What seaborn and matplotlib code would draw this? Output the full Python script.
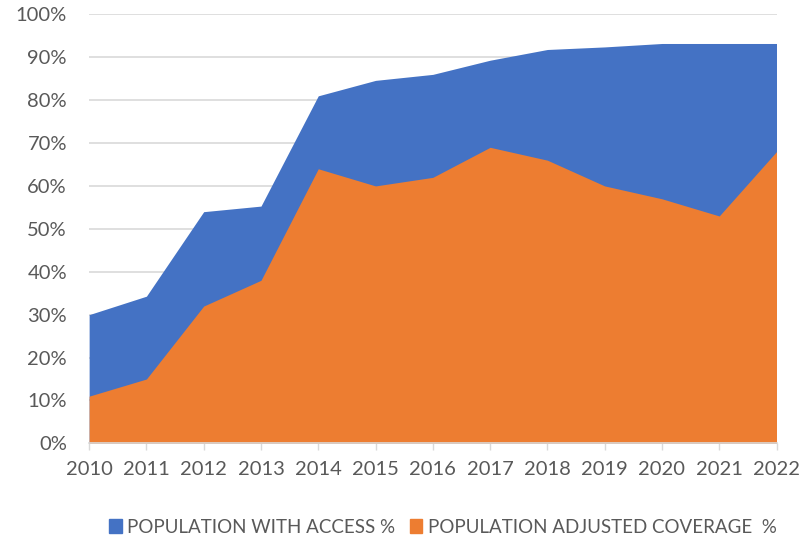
import matplotlib.pyplot as plt
import matplotlib.patches as mpatches
from matplotlib.ticker import PercentFormatter
import pandas as pd
import seaborn as sns

# values (percent)
years = [2010, 2011, 2012, 2013, 2014, 2015, 2016, 2017, 2018, 2019, 2020, 2021, 2022]
with_access = [30, 34.3, 54, 55.3, 81, 84.6, 86, 89.3, 91.8, 92.4, 93.2, 93.2, 93.2]
adjusted_coverage = [11, 15, 32, 38, 64, 60, 62, 69, 66, 60, 57, 53, 68]

series_names = ["POPULATION WITH ACCESS %", "POPULATION ADJUSTED COVERAGE  %"]
colors = ["#4472C4", "#ED7D31"]

df = pd.DataFrame({"year": years, series_names[0]: with_access, series_names[1]: adjusted_coverage})

sns.set_theme(style="white")
plt.rcParams["font.family"] = ["Lato", "DejaVu Sans"]
text_color = "#595959"

fig = plt.figure(figsize=(8.03, 5.42), dpi=100)
ax = fig.add_axes([0.111, 0.182, 0.856, 0.7916])

# overlapping areas, blue behind orange
for name, col in zip(series_names, colors):
    ax.fill_between(df["year"], 0, df[name], color=col, linewidth=0, zorder=2)

ax.set_xlim(years[0], years[-1])
ax.set_ylim(0, 100)
ax.set_yticks(range(0, 101, 10))
ax.yaxis.set_major_formatter(PercentFormatter(decimals=0))
ax.set_xticks(years)

ax.grid(axis="y", color="#d9d9d9", linewidth=1.2, zorder=0)
ax.set_axisbelow(True)
sns.despine(ax=ax, left=True, top=True, right=True)
ax.spines["bottom"].set_color("#d9d9d9")
ax.spines["bottom"].set_linewidth(1.2)
ax.spines["bottom"].set_zorder(3)

ax.tick_params(axis="y", length=0, pad=16, labelsize=14.5, labelcolor=text_color)
ax.tick_params(axis="x", bottom=True, length=5, width=1, color="#d9d9d9",
               pad=8, labelsize=14.5, labelcolor=text_color)

handles = [mpatches.Patch(color=c, label=n) for n, c in zip(series_names, colors)]
leg = ax.legend(handles=handles, loc="center", bbox_to_anchor=(0.515, -0.195), ncol=2,
                frameon=False, handlelength=0.65, handleheight=0.75, handletextpad=0.3,
                columnspacing=0.8, fontsize=13.5)
for t in leg.get_texts():
    t.set_color(text_color)

fig.savefig("out.png", dpi=100)
